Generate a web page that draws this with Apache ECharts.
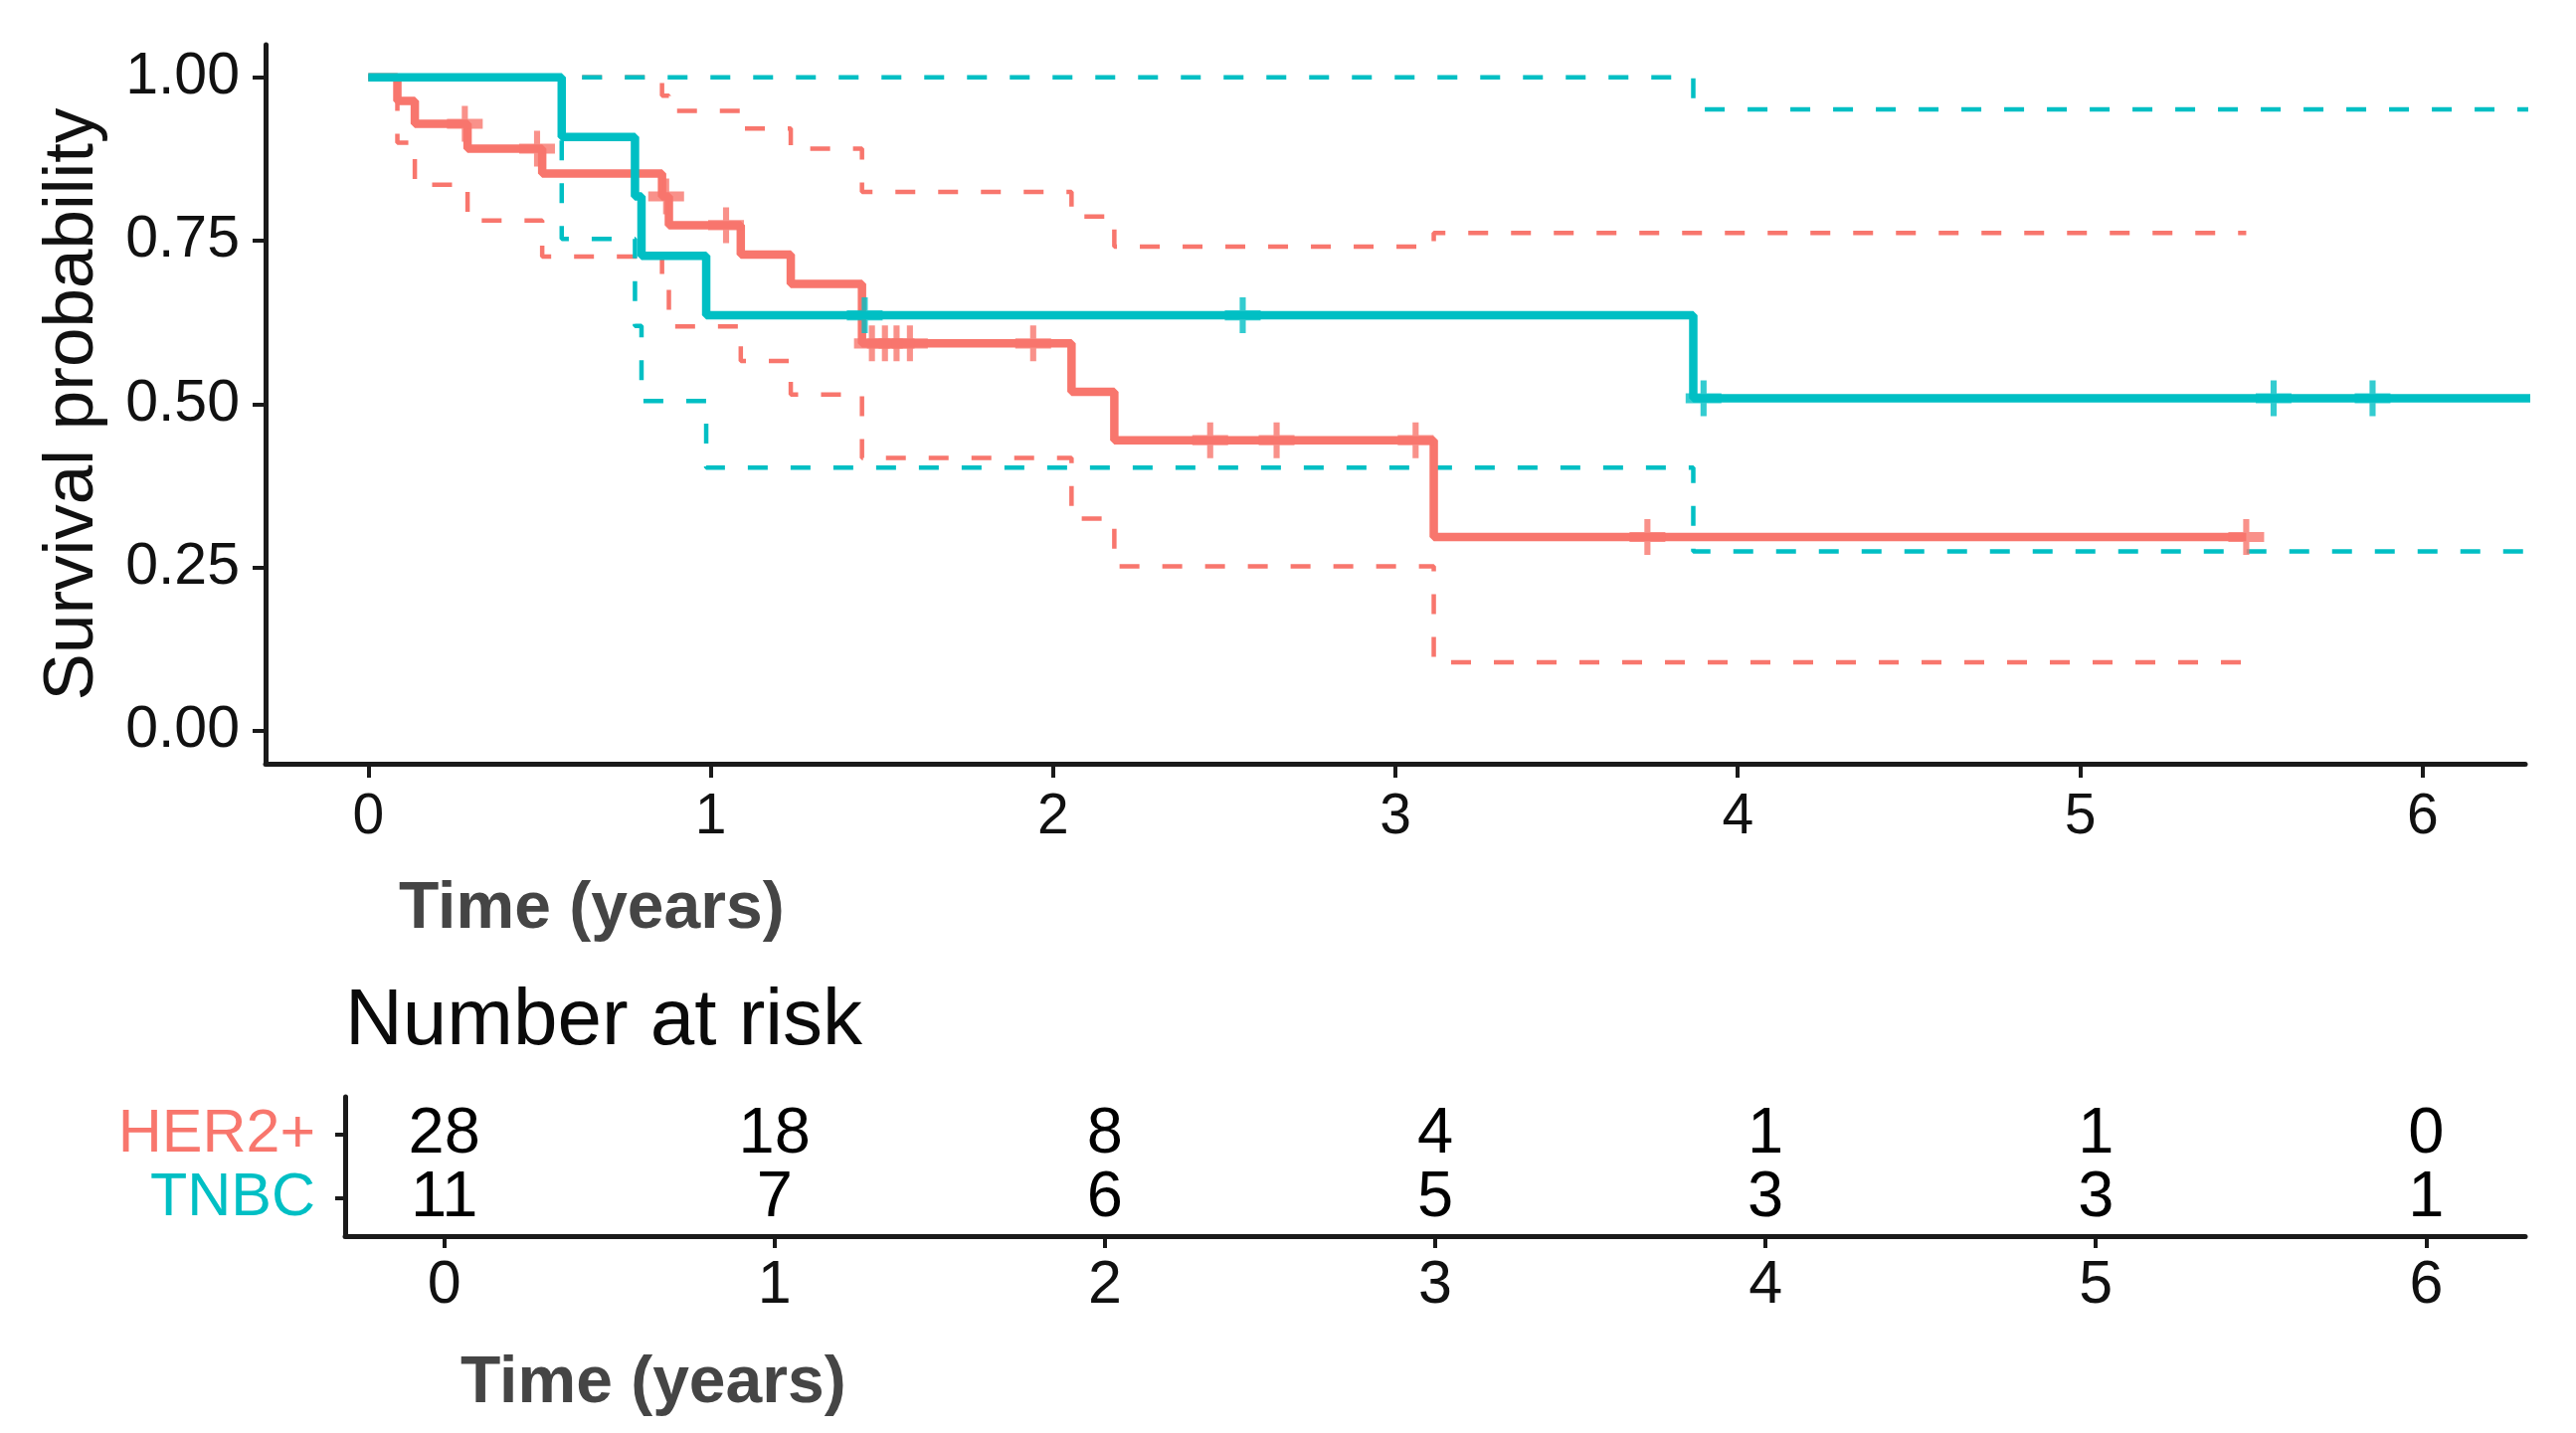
<!DOCTYPE html>
<html>
<head>
<meta charset="utf-8">
<title>Survival probability: HER2+ vs TNBC</title>
<script src="https://cdn.jsdelivr.net/npm/echarts@6/dist/echarts.min.js"></script>
<style>
  html, body { margin: 0; padding: 0; background: #ffffff; }
  #main { width: 2590px; height: 1441px; }
</style>
</head>
<body>
<div id="main"></div>
<script>
// values, time in years
var groups = ['HER2+', 'TNBC'];
var yearTicks = [0, 1, 2, 3, 4, 5, 6];
var probTicks = [0, 0.25, 0.5, 0.75, 1];

var her2Time   = [0, 0.085, 0.136, 0.29, 0.508, 0.858, 0.878, 1.088, 1.234, 1.442, 2.054, 2.179, 3.112, 5.485];
var her2Surv   = [1, 0.964, 0.929, 0.891, 0.853, 0.818, 0.774, 0.729, 0.684, 0.593, 0.519, 0.445, 0.297, 0.297];
var her2Upper  = [1, 1, 1, 1, 1, 0.972, 0.949, 0.922, 0.891, 0.825, 0.787, 0.741, 0.762, 0.762];
var her2Lower  = [1, 0.90, 0.836, 0.781, 0.726, 0.68, 0.619, 0.566, 0.515, 0.418, 0.325, 0.252, 0.105, 0.105];
var her2Censor = [0.282, 0.493, 0.87, 1.045, 1.471, 1.509, 1.543, 1.582, 1.942, 2.459, 2.653, 3.059, 3.736, 5.485];

var tnbcTime   = [0, 0.565, 0.779, 0.798, 0.987, 3.87, 6.4];
var tnbcSurv   = [1, 0.909, 0.818, 0.727, 0.636, 0.509, 0.509];
var tnbcUpper  = [1, 1, 1, 1, 1, 0.951, 0.951];
var tnbcLower  = [1, 0.753, 0.62, 0.505, 0.403, 0.275, 0.275];
var tnbcCensor = [1.45, 2.554, 3.9, 5.565, 5.854];

var riskHer2 = [28, 18, 8, 4, 1, 1, 0];
var riskTnbc = [11, 7, 6, 5, 3, 3, 1];

var colors = { 'HER2+': '#F8766D', 'TNBC': '#00BFC4' };
var fontFamily = '"Liberation Sans", Arial, Helvetica, sans-serif';
var plus = 'path://M8.3,0H11.7V7.2H20V12.8H11.7V20H8.3V12.8H0V7.2H8.3Z';

function pairs(times, vals) {
  return times.map(function (t, i) { return [t, vals[i]]; });
}

// survival value of the step curve at time t
function survAt(times, vals, t) {
  var v = vals[0];
  for (var i = 0; i < times.length; i++) {
    if (times[i] <= t) v = vals[i];
  }
  return v;
}

function stepLine(name, times, vals, color, dashed) {
  return {
    name: name,
    type: 'line',
    step: 'end',
    xAxisIndex: 0,
    yAxisIndex: 0,
    showSymbol: false,
    data: pairs(times, vals),
    lineStyle: {
      color: color,
      width: dashed ? 4.5 : 8.5,
      type: dashed ? [20, 23] : 'solid',
      cap: 'butt'
    },
    z: dashed ? 2 : 3
  };
}

function censorMarks(name, cens, times, vals, color) {
  return {
    name: name,
    type: 'scatter',
    xAxisIndex: 0,
    yAxisIndex: 0,
    symbol: plus,
    symbolSize: 36,
    itemStyle: { color: color },
    data: cens.map(function (t) { return [t, survAt(times, vals, t)]; }),
    z: 4
  };
}

var riskData = [];
yearTicks.forEach(function (yr, i) {
  riskData.push([yr, 2, riskHer2[i]]);
  riskData.push([yr, 1, riskTnbc[i]]);
});

var axisLineStyle = { color: '#1a1a1a', width: 5 };
var tickStyle = { color: '#1a1a1a', width: 4 };

var chart = echarts.init(document.getElementById('main'));

var option = {
  backgroundColor: '#ffffff',
  animation: false,
  textStyle: { fontFamily: fontFamily },
  grid: [
    { left: 267, top: 45, width: 2272, height: 723 },
    { left: 347, top: 1103, width: 2192, height: 140 }
  ],
  xAxis: [
    {
      gridIndex: 0,
      type: 'value',
      min: -0.3,
      max: 6.3,
      axisLine: { onZero: false, lineStyle: axisLineStyle },
      axisTick: { customValues: yearTicks, length: 14, lineStyle: tickStyle },
      axisLabel: {
        customValues: yearTicks,
        fontSize: 57,
        color: '#111111',
        margin: 26
      },
      splitLine: { show: false }
    },
    {
      gridIndex: 1,
      type: 'value',
      min: -0.3,
      max: 6.3,
      axisLine: { onZero: false, lineStyle: axisLineStyle },
      axisTick: { customValues: yearTicks, length: 12, lineStyle: tickStyle },
      axisLabel: {
        customValues: yearTicks,
        fontSize: 61,
        color: '#111111',
        margin: 20
      },
      splitLine: { show: false }
    }
  ],
  yAxis: [
    {
      gridIndex: 0,
      type: 'value',
      min: -0.05,
      max: 1.05,
      name: 'Survival probability',
      nameLocation: 'middle',
      nameGap: 158,
      nameTextStyle: { fontSize: 71, color: '#111111' },
      axisLine: { onZero: false, lineStyle: axisLineStyle },
      axisTick: { customValues: probTicks, length: 13, lineStyle: tickStyle },
      axisLabel: {
        customValues: probTicks,
        fontSize: 59,
        color: '#111111',
        margin: 26,
        formatter: function (v) { return v.toFixed(2); }
      },
      splitLine: { show: false }
    },
    {
      gridIndex: 1,
      type: 'value',
      min: 0.4,
      max: 2.6,
      axisLine: { onZero: false, lineStyle: axisLineStyle },
      axisTick: { customValues: [1, 2], length: 10, lineStyle: tickStyle },
      axisLabel: {
        customValues: [1, 2],
        margin: 30,
        formatter: function (v) {
          return v === 2 ? '{h|' + groups[0] + '}' : '{t|' + groups[1] + '}';
        },
        rich: {
          h: { fontSize: 61, color: colors['HER2+'], fontFamily: fontFamily },
          t: { fontSize: 61, color: colors['TNBC'], fontFamily: fontFamily }
        }
      },
      splitLine: { show: false }
    }
  ],
  graphic: [
    {
      type: 'text',
      x: 401,
      y: 915,
      style: {
        text: 'Time (years)',
        font: 'bold 66px ' + fontFamily,
        fill: '#454545',
        align: 'left',
        verticalAlign: 'middle'
      }
    },
    {
      type: 'text',
      x: 347,
      y: 1028,
      style: {
        text: 'Number at risk',
        font: '80px ' + fontFamily,
        fill: '#0a0a0a',
        align: 'left',
        verticalAlign: 'middle'
      }
    },
    {
      type: 'text',
      x: 463,
      y: 1392,
      style: {
        text: 'Time (years)',
        font: 'bold 66px ' + fontFamily,
        fill: '#454545',
        align: 'left',
        verticalAlign: 'middle'
      }
    }
  ],
  series: [
    stepLine('HER2+ upper', her2Time, her2Upper, colors['HER2+'], true),
    stepLine('HER2+ lower', her2Time, her2Lower, colors['HER2+'], true),
    stepLine('TNBC upper', tnbcTime, tnbcUpper, colors['TNBC'], true),
    stepLine('TNBC lower', tnbcTime, tnbcLower, colors['TNBC'], true),
    stepLine('HER2+', her2Time, her2Surv, colors['HER2+'], false),
    stepLine('TNBC', tnbcTime, tnbcSurv, colors['TNBC'], false),
    censorMarks('HER2+ censored', her2Censor, her2Time, her2Surv, colors['HER2+']),
    censorMarks('TNBC censored', tnbcCensor, tnbcTime, tnbcSurv, colors['TNBC']),
    {
      name: 'Number at risk',
      type: 'scatter',
      xAxisIndex: 1,
      yAxisIndex: 1,
      symbolSize: 0,
      itemStyle: { color: '#000000' },
      data: riskData,
      label: {
        show: true,
        position: 'inside',
        fontSize: 65,
        color: '#000000',
        opacity: 1,
        textBorderWidth: 0,
        formatter: function (p) { return String(p.value[2]); }
      }
    }
  ]
};

chart.setOption(option);
</script>
</body>
</html>
